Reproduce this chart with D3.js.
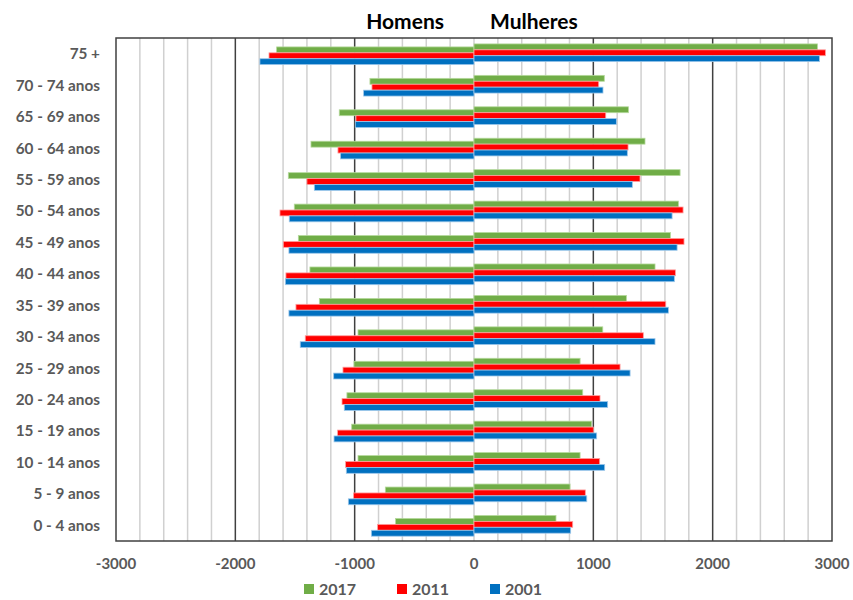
<!DOCTYPE html>
<html>
<head>
<meta charset="utf-8">
<script src="https://cdn.jsdelivr.net/npm/d3@7"></script>
<style>
  body { margin: 0; background: #fff; }
  text { font-family: Lato, "Open Sans", sans-serif; font-weight: bold; }
</style>
</head>
<body>
<script>
    // age groups, top to bottom
    const ageGroups = ['75 +', '70 - 74 anos', '65 - 69 anos', '60 - 64 anos', '55 - 59 anos',
        '50 - 54 anos', '45 - 49 anos', '40 - 44 anos', '35 - 39 anos', '30 - 34 anos',
        '25 - 29 anos', '20 - 24 anos', '15 - 19 anos', '10 - 14 anos', '5 - 9 anos', '0 - 4 anos']
    const years = ['2017', '2011', '2001']
    const yearColors = ['#70AD47', '#FF0000', '#0070C0']
    const yearStrokes = ['#b5d99c', '#ff9f9f', '#9cc7ea']

    // homens (drawn to the left)
    const men2017 = [1654, 872, 1129, 1366, 1556, 1506, 1472, 1375, 1296, 972, 1006, 1065, 1025, 972, 743, 657]
    const men2011 = [1718, 855, 989, 1140, 1400, 1626, 1598, 1576, 1492, 1414, 1098, 1106, 1143, 1076, 1009, 808]
    const men2001 = [1794, 925, 995, 1118, 1338, 1548, 1551, 1581, 1551, 1456, 1176, 1087, 1173, 1070, 1053, 860]
    // mulheres
    const women2017 = [2878, 1092, 1294, 1433, 1727, 1713, 1646, 1517, 1277, 1079, 889, 911, 986, 889, 805, 687]
    const women2011 = [2945, 1045, 1104, 1291, 1391, 1752, 1760, 1688, 1607, 1419, 1224, 1056, 1000, 1053, 933, 827]
    const women2001 = [2895, 1081, 1193, 1285, 1327, 1660, 1702, 1679, 1629, 1517, 1308, 1120, 1028, 1095, 945, 810]

    const xTicks = [-3000, -2000, -1000, 0, 1000, 2000, 3000]

    const menSeries = [men2017, men2011, men2001]
    const womenSeries = [women2017, women2011, women2001]

    const W = 853, H = 600
    const plot = { left: 116, right: 832, top: 38, bottom: 541 }

    const svg = d3.select('body').append('svg')
        .attr('width', W).attr('height', H)

    const x = d3.scaleLinear().domain([-3000, 3000]).range([plot.left, plot.right])
    const y = d3.scaleBand().domain(ageGroups).range([plot.top, plot.bottom])
    const inner = d3.scaleBand().domain(years).range([0, 17.7])

    // minor gridlines every 200 (0 line is light too)
    const minor = d3.range(-3000, 3001, 200).filter(v => v % 1000 !== 0 || v === 0)
    svg.selectAll('.minor').data(minor).enter().append('line')
        .attr('x1', d => x(d)).attr('x2', d => x(d))
        .attr('y1', plot.top).attr('y2', plot.bottom)
        .attr('stroke', '#d0d0d0').attr('stroke-width', 1.5)

    svg.selectAll('.major').data([-2000, -1000, 1000, 2000]).enter().append('line')
        .attr('x1', d => x(d)).attr('x2', d => x(d))
        .attr('y1', plot.top).attr('y2', plot.bottom)
        .attr('stroke', '#404040').attr('stroke-width', 1.5)

    // flatten rows for bars
    const bars = []
    ageGroups.forEach((g, i) => {
        years.forEach((yr, j) => {
            bars.push({ group: g, year: yr, k: j, side: 'm', value: -menSeries[j][i] })
            bars.push({ group: g, year: yr, k: j, side: 'w', value: womenSeries[j][i] })
        })
    })

    svg.selectAll('.bar').data(bars).enter().append('rect')
        .attr('x', d => Math.min(x(0), x(d.value)))
        .attr('width', d => Math.abs(x(d.value) - x(0)))
        .attr('y', d => y(d.group) + y.bandwidth() / 2 - 9.8 + (d.side === 'm' ? 3 : 0) + inner(d.year))
        .attr('height', inner.bandwidth())
        .attr('fill', d => yearColors[d.k])
        .attr('stroke', d => yearStrokes[d.k])
        .attr('stroke-width', 0.8)

    // plot frame
    svg.append('rect')
        .attr('x', plot.left).attr('y', plot.top)
        .attr('width', plot.right - plot.left).attr('height', plot.bottom - plot.top)
        .attr('fill', 'none').attr('stroke', '#404040').attr('stroke-width', 1.5)

    // category labels
    svg.selectAll('.cat').data(ageGroups).enter().append('text')
        .attr('x', 100)
        .attr('y', d => y(d) + y.bandwidth() / 2)
        .attr('dy', '0.36em')
        .attr('text-anchor', 'end')
        .attr('font-size', 15.3)
        .attr('fill', '#595959')
        .text(d => d)

    // x tick labels
    svg.selectAll('.tick').data(xTicks).enter().append('text')
        .attr('x', d => x(d))
        .attr('y', 569)
        .attr('text-anchor', 'middle')
        .attr('font-size', 15)
        .attr('fill', '#595959')
        .text(d => d)

    // titles
    svg.append('text').attr('x', 444).attr('y', 29).attr('text-anchor', 'end')
        .attr('font-size', 21).attr('fill', '#000').text('Homens')
    svg.append('text').attr('x', 490).attr('y', 29).attr('text-anchor', 'start')
        .attr('font-size', 21).attr('fill', '#000').text('Mulheres')

    // legend
    const legendX = [304, 397, 490]
    const lg = svg.selectAll('.lg').data(years).enter().append('g')
        .attr('transform', (d, i) => `translate(${legendX[i]}, 584)`)
    lg.append('rect').attr('width', 10).attr('height', 10).attr('y', 0)
        .attr('fill', (d, i) => yearColors[i])
    lg.append('text').attr('x', 15).attr('y', 11)
        .attr('font-size', 16).attr('fill', '#595959')
        .text(d => d)
</script>
</body>
</html>
